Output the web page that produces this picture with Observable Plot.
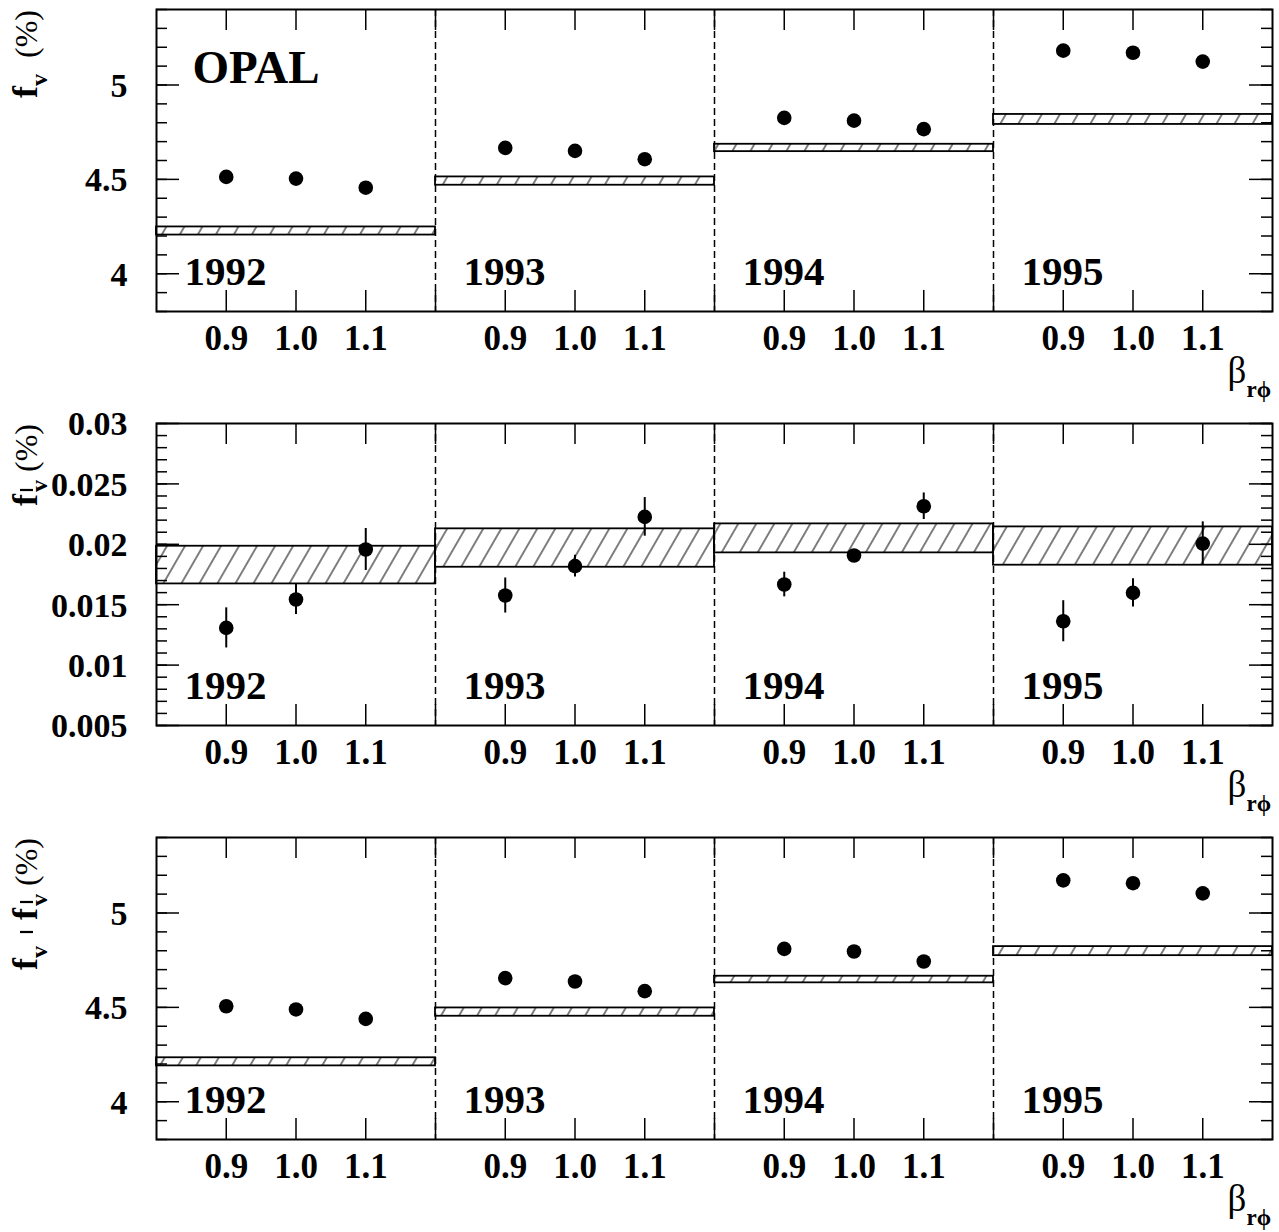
<!DOCTYPE html>
<html><head><meta charset="utf-8">
<script src="https://cdn.jsdelivr.net/npm/d3@7"></script>
<script src="https://cdn.jsdelivr.net/npm/@observablehq/plot@0.6"></script>
<style>
body{margin:0;background:#fff;}
#chart svg{display:block;}
</style>
</head><body>
<svg id="defs" width="0" height="0" style="position:absolute">
 <defs>
  <pattern id="hatch" patternUnits="userSpaceOnUse" width="15.6" height="20" patternTransform="rotate(30)">
   <line x1="7.8" y1="-2" x2="7.8" y2="22" stroke="#000" stroke-width="1"/>
  </pattern>
 </defs>
</svg>
<div id="chart"></div>
<script>
// ---- data ----
const years = [1992, 1993, 1994, 1995];
const betas = [0.9, 1.0, 1.1];

// Panel 1: f_v (%)
const fvVals = [[4.513, 4.504, 4.456], [4.667, 4.651, 4.607], [4.826, 4.811, 4.766], [5.182, 5.171, 5.124]];
const fvBandLo = [4.205, 4.469, 4.647, 4.791];
const fvBandHi = [4.248, 4.513, 4.686, 4.844];

// Panel 2: f-bar_v (%)
const fbVals = [[0.01308, 0.01543, 0.01957], [0.01576, 0.01819, 0.02227], [0.01667, 0.01907, 0.02315], [0.01363, 0.01598, 0.02006]];
const fbErr = [[0.00166, 0.00124, 0.00174], [0.00145, 0.0009, 0.0016], [0.00102, 0.0005, 0.0011], [0.0017, 0.00117, 0.0018]];
const fbBandLo = [0.01672, 0.0181, 0.01929, 0.01827];
const fbBandHi = [0.01984, 0.02128, 0.02169, 0.02144];

// Panel 3: f_v - f-bar_v (%)
const dfVals = [[4.506, 4.489, 4.439], [4.655, 4.637, 4.586], [4.810, 4.796, 4.743], [5.173, 5.158, 5.104]];
const dfBandLo = [4.190, 4.453, 4.630, 4.774];
const dfBandHi = [4.233, 4.497, 4.665, 4.822];

// axis ticks
const yTicksA = [4, 4.5, 5];
const yLabelsA = ["4", "4.5", "5"];
const yDomainA = [3.8, 5.4];
const yTicksB = [0.005, 0.01, 0.015, 0.02, 0.025, 0.03];
const yLabelsB = ["0.005", "0.01", "0.015", "0.02", "0.025", "0.03"];
const yDomainB = [0.005, 0.03];

// ---- layout ----
const FONT = "'Liberation Serif','Times New Roman',Times,serif";
const SEG = 0.4, BASE = 0.8;
const W = 1279, H = 414, MT = 9, MB = 103, ML = 156, MR = 7;
const FW = W - ML - MR, FH = H - MT - MB;

function richText(svg, {x, y, rotate = 0, anchor = "start", parts}) {
  const t = d3.select(svg).append("text")
    .attr("transform", `translate(${x},${y}) rotate(${rotate})`)
    .attr("text-anchor", anchor)
    .attr("font-family", FONT)
    .attr("fill", "black");
  for (const p of parts) {
    const s = t.append("tspan").text(p.t)
      .attr("font-size", p.s)
      .attr("font-weight", p.w || "bold");
    if (p.dx) s.attr("dx", p.dx);
    if (p.dy) s.attr("dy", p.dy);
  }
}

function makePanel(cfg) {
  const pts = years.flatMap((yr, i) => betas.map((b, j) => ({
    x: i * SEG + b - BASE, v: cfg.vals[i][j], e: cfg.err ? cfg.err[i][j] : 0, t: b.toFixed(1)
  })));
  const bands = years.map((yr, i) => ({x1: i * SEG, x2: (i + 1) * SEG, lo: cfg.lo[i], hi: cfg.hi[i], year: String(yr)}));
  const bounds = years.slice(1).map((yr, i) => (i + 1) * SEG);
  const xTicks = pts.map(d => d.x).concat(bounds);
  const [y0, y1] = cfg.yDomain;
  const nMinor = Math.round((y1 - y0) / cfg.minorStep);
  const minor = d3.range(nMinor + 1).map(k => y0 + k * cfg.minorStep);
  const tl = {stroke: "black", strokeWidth: 1.5};
  const txt = {fontFamily: FONT, fontWeight: "bold", fill: "black"};
  const marks = [
    Plot.rect(bands, {x1: "x1", x2: "x2", y1: "lo", y2: "hi", fill: "url(#hatch)", stroke: "black", strokeWidth: 1.8}),
    Plot.ruleX(bounds, {x: d => d, stroke: "black", strokeWidth: 1.5, strokeDasharray: "7,4"}),
    Plot.ruleX(xTicks, {x: d => d, insetBottom: FH - 21, ...tl}),
    Plot.ruleX(xTicks, {x: d => d, insetTop: FH - 21, ...tl}),
    Plot.ruleY(cfg.yTicks, {y: d => d, insetRight: FW - 23, ...tl}),
    Plot.ruleY(cfg.yTicks, {y: d => d, insetLeft: FW - 23, ...tl}),
    Plot.ruleY(minor, {y: d => d, insetRight: FW - 11, ...tl}),
    Plot.ruleY(minor, {y: d => d, insetLeft: FW - 11, ...tl}),
  ];
  if (cfg.err) {
    marks.push(Plot.ruleX(pts, {x: "x", y1: d => d.v - d.e, y2: d => d.v + d.e, stroke: "black", strokeWidth: 2}));
  }
  marks.push(
    Plot.dot(pts, {x: "x", y: "v", r: 7.3, fill: "black", stroke: "none"}),
    Plot.frame({stroke: "black", strokeWidth: 2}),
    Plot.text(bands, {x: "x1", text: "year", frameAnchor: "bottom", textAnchor: "start", lineAnchor: "bottom", dx: 28, dy: -27, fontSize: 41, ...txt}),
    Plot.text(pts, {x: "x", text: "t", frameAnchor: "bottom", lineAnchor: "top", dy: 14, fontSize: 35, ...txt}),
    Plot.text(cfg.yTicks, {y: d => d, text: (d, i) => cfg.yLabels[i], frameAnchor: "left", textAnchor: "end", lineAnchor: "middle", dx: -29, dy: 1, fontSize: 34, ...txt})
  );
  if (cfg.opal) {
    marks.push(Plot.text([cfg.opal], {text: d => d, frameAnchor: "top-left", textAnchor: "start", lineAnchor: "bottom", dx: 36, dy: 73, fontSize: 47, ...txt}));
  }
  const svg = Plot.plot({
    width: W, height: H,
    marginTop: MT, marginBottom: MB, marginLeft: ML, marginRight: MR,
    style: {fontFamily: FONT, background: "white", overflow: "visible"},
    x: {domain: [0, SEG * years.length], axis: null},
    y: {domain: cfg.yDomain, axis: null},
    marks
  });
  // y axis title (rotated)
  richText(svg, {x: 37, y: 10, rotate: -90, anchor: "end", parts: cfg.title});
  // bar / minus strokes of the title, drawn unrotated as in the original
  for (const b of (cfg.bars || [])) {
    d3.select(svg).append("line")
      .attr("x1", 20).attr("x2", 33).attr("y1", b).attr("y2", b)
      .attr("stroke", "black").attr("stroke-width", 2.2);
  }
  // x axis title beta_{r phi}
  richText(svg, {x: W - MR - 1, y: MT + FH + 72, anchor: "end", parts: [
    {t: "β", s: 37, w: "normal"},
    {t: "rϕ", s: 23, dy: 14}
  ]});
  return svg;
}

const titleA = [
  {t: "f", s: 36},
  {t: "v", s: 24, dy: 10},
  {t: "\u00a0\u00a0(%)", s: 32, w: "normal", dy: -10}
];
const titleB = [
  {t: "f", s: 36},
  {t: "v", s: 24, dx: 2, dy: 10},
  {t: "\u00a0(%)", s: 32, w: "normal", dy: -10}
];
const titleC = [
  {t: "f", s: 36},
  {t: "v", s: 24, dy: 10},
  {t: "f", s: 36, dx: 26, dy: -10},
  {t: "v", s: 24, dx: 2, dy: 10},
  {t: "\u00a0(%)", s: 32, w: "normal", dy: -10}
];

const chart = document.getElementById("chart");
chart.append(makePanel({vals: fvVals, lo: fvBandLo, hi: fvBandHi, yDomain: yDomainA, yTicks: yTicksA, yLabels: yLabelsA, minorStep: 0.1, title: titleA, opal: "OPAL"}));
chart.append(makePanel({vals: fbVals, err: fbErr, lo: fbBandLo, hi: fbBandHi, yDomain: yDomainB, yTicks: yTicksB, yLabels: yLabelsB, minorStep: 0.001, title: titleB, bars: [76]}));
chart.append(makePanel({vals: dfVals, lo: dfBandLo, hi: dfBandHi, yDomain: yDomainA, yTicks: yTicksA, yLabels: yLabelsA, minorStep: 0.1, title: titleC, bars: [104, 74]}));
</script>
</body></html>
